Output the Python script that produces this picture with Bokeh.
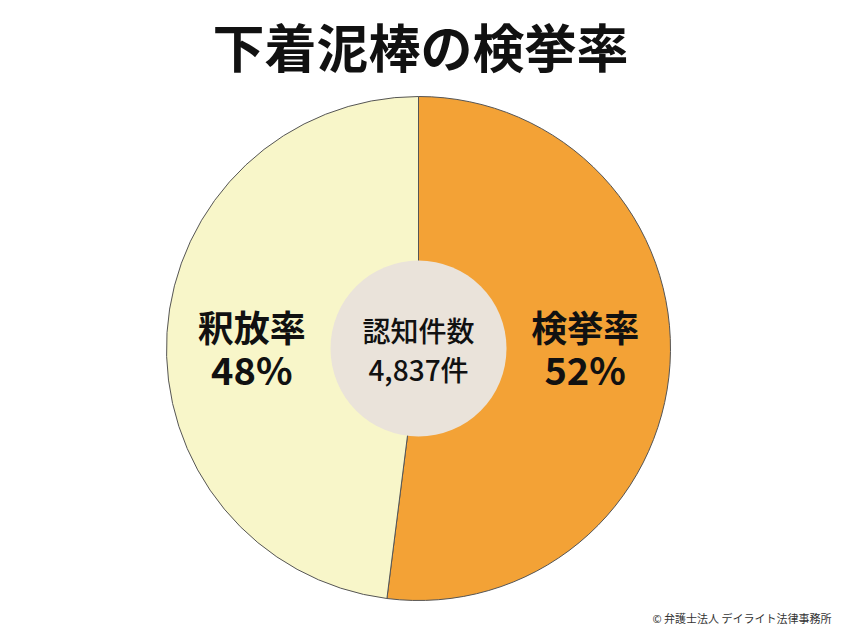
import math
from bokeh.plotting import figure
from bokeh.models import ColumnDataSource
from bokeh.core.properties import value
from bokeh.embed import file_html
from bokeh.resources import INLINE

title = "下着泥棒の検挙率"
categories = ["検挙率", "釈放率"]
values = [52, 48]
colors = ["#F3A236", "#F8F6C9"]
center_label = "認知件数"
center_value = "4,837件"
credit = "© 弁護士法人 デイライト法律事務所"

W, H = 834, 626
p = figure(width=W, height=H, x_range=(0, W), y_range=(0, H),
           output_backend="svg", toolbar_location=None, min_border=0)
p.axis.visible = False
p.grid.visible = False
p.outline_line_color = None
p.background_fill_color = "white"

cx, cy, R = 418, 278, 252
total = sum(values)
starts, ends, lx = [], [], []
a = math.pi / 2
for v in values:
    s = a
    e = a - v / total * 2 * math.pi
    starts.append(s)
    ends.append(e)
    mid = (s + e) / 2
    lx.append(cx + 167 * math.cos(mid))
    a = e

src = ColumnDataSource(dict(x=[cx] * len(values), y=[cy] * len(values),
                            start=starts, end=ends, color=colors))
p.wedge(x="x", y="y", radius=R, start_angle="start", end_angle="end",
        direction="clock", fill_color="color", line_color="#555555",
        line_width=1, source=src)

p.circle(x=[cx], y=[cy], radius=88, fill_color="#EAE3DA", line_color=None)

font = value("Noto Sans CJK JP")
medium = value("'Noto Sans CJK JP Medium', 'Noto Sans CJK JP'")
p.text(x=lx, y=[cy + 23] * 2, text=categories, text_font=font,
       text_font_size="36px", text_font_style="bold", text_align="center",
       text_baseline="middle", text_color="#111111")
p.text(x=lx, y=[cy - 20] * 2, text=[f"{v}%" for v in values], text_font=font,
       text_font_size="38px", text_font_style="bold", text_align="center",
       text_baseline="middle", text_color="#111111")

p.text(x=[cx], y=[cy + 19], text=[center_label], text_font=medium,
       text_font_size="28px", text_align="center", text_baseline="middle",
       text_color="#111111")
p.text(x=[cx], y=[cy - 20], text=[center_value], text_font=medium,
       text_font_size="28px", text_align="center", text_baseline="middle",
       text_color="#111111")

p.text(x=[420], y=[H - 45], text=[title], text_font=font,
       text_font_size="52px", text_font_style="bold", text_align="center",
       text_baseline="middle", text_color="#111111")

p.text(x=[831], y=[9], text=[credit], text_font=font,
       text_font_size="11px", text_align="right", text_baseline="middle",
       text_color="#333333")

open("out.html", "w").write(file_html(p, INLINE))
